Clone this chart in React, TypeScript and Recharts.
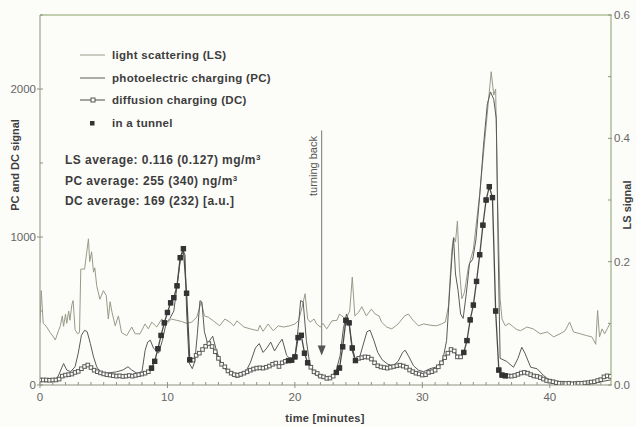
import React from 'react';
import { LineChart, Line, XAxis, YAxis, ReferenceLine, ReferenceDot } from 'recharts';

// light scattering (right axis, mg/m3) - time in minutes
const LS_TIME = [
  0, 0.1, 0.25, 0.5, 0.8, 1.05, 1.2, 1.45, 1.6, 1.75,
  1.85, 2.0, 2.1, 2.25, 2.35, 2.5, 2.6, 2.75, 2.95, 3.1,
  3.2, 3.5, 3.8, 3.9, 4.05, 4.2, 4.3, 4.45, 4.7, 4.97,
  5.2, 5.36, 5.5, 5.65, 5.9, 6.15, 6.4, 6.8, 7.2, 7.46,
  7.85, 8.24, 8.5, 8.77, 9.16, 9.55, 9.94, 10.3, 10.7, 11.1,
  11.5, 11.9, 12.3, 12.65, 12.9, 13.2, 13.6, 14.1, 14.5, 14.9,
  15.2, 15.45, 16.0, 16.5, 17.1, 17.25, 17.5, 17.9, 18.3, 18.7,
  19.1, 19.6, 20.0, 20.3, 20.55, 20.8, 21.0, 21.2, 21.5, 21.7,
  22.0, 22.2, 22.5, 22.9, 23.3, 23.5, 23.8, 24.0, 24.3, 24.5,
  24.7, 25.0, 25.25, 25.6, 26.0, 26.3, 26.6, 26.8, 27.2, 27.6,
  28.1, 28.6, 28.9, 29.3, 29.7, 30.1, 30.6, 31.1, 31.5, 31.8,
  32.05, 32.3, 32.45, 32.6, 32.75, 32.9, 33.1, 33.3, 33.6, 34.0,
  34.5, 35.0, 35.4, 35.6, 35.75, 35.9, 36.1, 36.25, 36.5, 36.8,
  37.15, 37.4, 37.7, 38.2, 38.7, 39.25, 39.8, 40.3, 40.8, 41.2,
  41.55, 41.86, 42.4, 42.9, 43.3, 43.6, 43.75, 43.9, 44.1, 44.3,
  44.5, 44.7,
];
const LS_VALUE = [
  0.100, 0.153, 0.100, 0.095, 0.085, 0.078, 0.073, 0.088, 0.096, 0.112,
  0.095, 0.115, 0.100, 0.120, 0.105, 0.130, 0.137, 0.090, 0.083, 0.085,
  0.188, 0.188, 0.237, 0.200, 0.216, 0.183, 0.190, 0.161, 0.139, 0.153,
  0.145, 0.107, 0.135, 0.118, 0.096, 0.112, 0.085, 0.080, 0.094, 0.083,
  0.083, 0.099, 0.091, 0.102, 0.094, 0.107, 0.099, 0.107, 0.105, 0.103,
  0.100, 0.102, 0.110, 0.135, 0.112, 0.110, 0.104, 0.096, 0.107, 0.102,
  0.096, 0.104, 0.094, 0.091, 0.088, 0.097, 0.087, 0.099, 0.088, 0.096,
  0.094, 0.096, 0.099, 0.105, 0.125, 0.148, 0.107, 0.102, 0.107, 0.099,
  0.094, 0.100, 0.091, 0.104, 0.105, 0.115, 0.110, 0.107, 0.120, 0.175,
  0.112, 0.118, 0.127, 0.112, 0.123, 0.115, 0.112, 0.102, 0.094, 0.091,
  0.099, 0.112, 0.115, 0.104, 0.096, 0.099, 0.097, 0.096, 0.099, 0.102,
  0.128, 0.216, 0.240, 0.232, 0.266, 0.190, 0.140, 0.150, 0.190, 0.220,
  0.310, 0.420, 0.508, 0.470, 0.480, 0.300, 0.140, 0.107, 0.096, 0.100,
  0.094, 0.090, 0.088, 0.094, 0.091, 0.083, 0.086, 0.078, 0.083, 0.088,
  0.102, 0.086, 0.083, 0.080, 0.078, 0.066, 0.121, 0.078, 0.091, 0.083,
  0.091, 0.099,
];

// photoelectric charging (left axis)
const PC_TIME = [
  0, 0.5, 1.0, 1.4, 1.85, 2.1, 2.4, 2.75, 3.0, 3.25,
  3.5, 3.7, 3.95, 4.2, 4.45, 4.7, 5.2, 6.0, 6.5, 6.9,
  7.2, 7.6, 8.0, 8.25, 8.45, 8.65, 8.9, 9.3, 9.6, 9.9,
  10.2, 10.5, 10.8, 11.05, 11.25, 11.38, 11.5, 11.7, 11.95, 12.15,
  12.35, 12.55, 12.7, 12.9, 13.15, 13.55, 13.85, 14.2, 14.6, 15.0,
  15.4, 15.8, 16.2, 16.5, 16.9, 17.2, 17.5, 17.8, 18.1, 18.4,
  18.75, 19.0, 19.35, 19.7, 20.0, 20.25, 20.45, 20.65, 20.9, 21.15,
  21.45, 21.8, 22.2, 22.6, 22.95, 23.25, 23.55, 23.8, 24.05, 24.25,
  24.5, 24.75, 25.05, 25.35, 25.65, 25.9, 26.2, 26.5, 26.85, 27.3,
  27.7, 28.1, 28.45, 28.65, 28.95, 29.3, 29.7, 30.1, 30.6, 31.1,
  31.6, 31.9, 32.15, 32.35, 32.45, 32.6, 32.8, 33.0, 33.2, 33.45,
  33.7, 33.95, 34.2, 34.5, 34.8, 35.1, 35.35, 35.6, 35.8, 35.95,
  36.1, 36.6, 37.15, 37.5, 37.8, 38.05, 38.5, 39.0, 39.5, 40.0,
  40.5, 41.5, 42.5, 43.5, 44.2, 44.8,
];
const PC_VALUE = [
  25, 22, 25, 55, 145, 101, 90, 123, 215, 336,
  370, 360, 280, 190, 123, 89, 79, 89, 101, 123,
  101, 79, 89, 235, 290, 303, 250, 215, 300, 420,
  450, 500, 700, 870, 900, 880, 500, 150, 110, 160,
  350, 570, 560, 360, 280, 330, 230, 150, 100, 70,
  50, 60, 100, 150, 250, 280, 220, 250, 290, 230,
  280, 310, 200, 170, 180, 380, 570, 560, 300, 150,
  80, 60, 45, 45, 60, 100, 200, 380, 480, 420,
  230, 160, 180, 270, 360, 370, 300, 220, 170, 140,
  130, 160, 220, 235, 190, 130, 100, 90, 110, 122,
  168, 300, 650, 900, 990, 750, 640, 480, 450, 620,
  820, 850, 980, 1280, 1620, 1900, 1980, 1930, 1800, 900,
  180, 160, 120, 180, 255, 215, 120, 110, 65, 30,
  15, 12, 10, 14, 25, 35,
];

// diffusion charging, sampled every 0.25 min
const DC_STEP = 0.25;
const DC_VALUE = [
  34, 34, 34, 32, 34, 34, 40, 60, 67, 70, 74, 85, 92, 110, 125, 135, 118, 100, 90, 82,
  75, 70, 67, 63, 60, 62, 58, 60, 64, 60, 65, 70, 74, 80, 90, 114, 160, 245, 335, 420,
  490, 555, 590, 670, 860, 921, 620, 170, 168, 200, 215, 240, 262, 280, 260, 225, 180, 140, 123, 95,
  80, 70, 66, 72, 80, 89, 100, 108, 114, 116, 114, 120, 128, 140, 148, 125, 150, 160, 165, 168,
  190, 320, 336, 215, 150, 120, 89, 78, 60, 55, 45, 47, 60, 85, 115, 258, 437, 420, 250, 165,
  180, 185, 190, 188, 175, 150, 130, 122, 118, 114, 120, 125, 130, 134, 128, 120, 101, 90, 80, 75,
  67, 70, 85, 90, 100, 123, 150, 185, 215, 240, 230, 190, 190, 220, 300, 440, 540, 700, 880, 1080,
  1250, 1340, 1266, 500, 101, 67, 62, 61, 60, 64, 72, 81, 85, 80, 70, 61, 58, 50, 40, 30,
  26, 22, 16, 12, 12, 10, 12, 8, 10, 12, 11, 14, 16, 20, 22, 30, 36, 55, 62, 58,
];

// stretches driven in a tunnel (minutes)
const TUNNEL = [[8.6, 11.8], [19.3, 21.2], [23.2, 24.9], [33.1, 36.5]];
const TURN_BACK = 22.1;

const X_TICKS = Array.from({ length: 45 }, (_, i) => i);
const LEFT_TICKS = [0, 500, 1000, 1500, 2000, 2500];
const RIGHT_TICKS = [0, 0.1, 0.2, 0.3, 0.4, 0.5, 0.6];

const lsData = LS_TIME.map((t, i) => ({ t, ls: LS_VALUE[i] }));
const pcData = PC_TIME.map((t, i) => ({ t, pc: PC_VALUE[i] }));
const dcData = DC_VALUE.map((v, i) => {
  const t = i * DC_STEP;
  const inTunnel = TUNNEL.some(([a, b]) => t >= a && t <= b);
  return { t, dc: v, tunnel: inTunnel ? v : null };
});

const FONT = '"Liberation Sans", Arial, Helvetica, sans-serif';
const AXIS = '#8d957f';
const FRAME_TOP = '#86a267';
const LS_COLOR = '#979c88';
const PC_COLOR = '#5a5a5a';
const DC_COLOR = '#4a4a4a';
const TEXT = '#3d3d3d';
const TICK_TEXT = '#666';
const BG = '#fcfcf9';

const XTick = ({ x, y, payload }: any) => {
  const v = payload.value;
  const major = v % 10 === 0;
  return (
    <g>
      <line x1={x} x2={x} y1={y - 3} y2={major ? y + 3 : y} stroke={AXIS} />
      {major && (
        <text x={x} y={y + 16} textAnchor="middle" fontSize={11.5} fontFamily={FONT} fill={TICK_TEXT}>
          {v}
        </text>
      )}
    </g>
  );
};

const LeftTick = ({ x, y, payload }: any) => {
  const v = payload.value;
  const major = v % 1000 === 0;
  return (
    <g>
      <line x1={major ? x - 3 : x} x2={x + 3} y1={y} y2={y} stroke={AXIS} />
      {major && (
        <text x={x - 4} y={y + 4} textAnchor="end" fontSize={11.5} fontFamily={FONT} fill={TICK_TEXT}>
          {v}
        </text>
      )}
    </g>
  );
};

const RightTick = ({ x, y, payload }: any) => {
  const v = payload.value;
  const major = Math.round(v * 10) % 2 === 0;
  return (
    <g>
      <line x1={x - 3} x2={major ? x + 1 : x} y1={y} y2={y} stroke={AXIS} />
      {major && (
        <text x={x + 3} y={y + 4} textAnchor="start" fontSize={11.5} fontFamily={FONT} fill={TICK_TEXT}>
          {v.toFixed(1)}
        </text>
      )}
    </g>
  );
};

const OpenSquare = (p: any) => {
  const { cx, cy, index, value } = p;
  if (cx == null || cy == null || value == null) return <g key={`o${index}`} />;
  return (
    <rect key={`o${index}`} x={cx - 1.8} y={cy - 1.8} width={3.6} height={3.6} fill={BG} stroke="#5a5a5a" strokeWidth={1} />
  );
};

const FilledSquare = (p: any) => {
  const { cx, cy, index, value } = p;
  if (cx == null || cy == null || value == null) return <g key={`f${index}`} />;
  return <rect key={`f${index}`} x={cx - 2.2} y={cy - 2.2} width={4.4} height={4.4} fill="#333" stroke="#333" />;
};

const ArrowHead = (p: any) => {
  const { cx, cy } = p;
  if (cx == null || cy == null) return <g />;
  return <path d={`M${cx - 4},${cy - 10} L${cx + 4},${cy - 10} L${cx},${cy} Z`} fill="#555" />;
};

const textStyle = { fontFamily: FONT, fontWeight: 700, fill: TEXT } as const;

export default function App() {
  return (
    <div style={{ position: 'absolute', left: 0, top: 0, width: 636, height: 426, background: BG }}>
      <LineChart width={636} height={426} margin={{ top: 15, right: 0, bottom: 0, left: 0 }}>
        <XAxis
          dataKey="t"
          type="number"
          domain={[0, 44.8]}
          allowDataOverflow
          ticks={X_TICKS}
          interval={0}
          tick={XTick}
          tickLine={false}
          tickSize={0}
          tickMargin={0}
          height={41}
          axisLine={{ stroke: AXIS }}
        />
        <YAxis
          yAxisId="left"
          domain={[0, 2500]}
          allowDataOverflow
          ticks={LEFT_TICKS}
          interval={0}
          tick={LeftTick}
          tickLine={false}
          tickSize={0}
          tickMargin={0}
          width={40}
          axisLine={{ stroke: AXIS }}
        />
        <YAxis
          yAxisId="right"
          orientation="right"
          domain={[0, 0.6]}
          allowDataOverflow
          ticks={RIGHT_TICKS}
          interval={0}
          tick={RightTick}
          tickLine={false}
          tickSize={0}
          tickMargin={0}
          width={25}
          axisLine={{ stroke: FRAME_TOP }}
        />
        <ReferenceLine yAxisId="left" y={2500} stroke={FRAME_TOP} />
        <ReferenceLine
          yAxisId="left"
          segment={[{ x: TURN_BACK, y: 1720 }, { x: TURN_BACK, y: 240 }]}
          stroke="#777"
        />
        <ReferenceDot yAxisId="left" x={TURN_BACK} y={200} shape={ArrowHead} />
        <Line
          data={lsData}
          dataKey="ls"
          yAxisId="right"
          type="linear"
          stroke={LS_COLOR}
          strokeWidth={1}
          dot={false}
          activeDot={false}
          isAnimationActive={false}
        />
        <Line
          data={pcData}
          dataKey="pc"
          yAxisId="left"
          type="linear"
          stroke={PC_COLOR}
          strokeWidth={1}
          dot={false}
          activeDot={false}
          isAnimationActive={false}
        />
        <Line
          data={dcData}
          dataKey="dc"
          yAxisId="left"
          type="linear"
          stroke={DC_COLOR}
          strokeWidth={1.3}
          dot={OpenSquare}
          activeDot={false}
          isAnimationActive={false}
        />
        <Line
          data={dcData}
          dataKey="tunnel"
          yAxisId="left"
          type="linear"
          stroke="none"
          dot={FilledSquare}
          activeDot={false}
          isAnimationActive={false}
        />
      </LineChart>

      <svg
        width={636}
        height={426}
        style={{ position: 'absolute', left: 0, top: 0, pointerEvents: 'none' }}
      >
        {/* legend */}
        <line x1={80} x2={105} y1={55} y2={55} stroke={LS_COLOR} />
        <line x1={80} x2={105} y1={78} y2={78} stroke={PC_COLOR} />
        <line x1={80} x2={105} y1={100} y2={100} stroke={DC_COLOR} />
        <rect x={91} y={98} width={4} height={4} fill={BG} stroke="#555" />
        <rect x={90} y={121} width={4.5} height={4.5} fill="#333" />
        <g fontSize={11.5} letterSpacing={0.3} {...textStyle}>
          <text x={112} y={59}>light scattering (LS)</text>
          <text x={112} y={82}>photoelectric charging (PC)</text>
          <text x={112} y={104}>diffusion charging (DC)</text>
          <text x={112} y={127}>in a tunnel</text>
        </g>

        {/* averages */}
        <g fontSize={12} letterSpacing={0.45} {...textStyle}>
          <text x={65} y={164}>
            LS average: 0.116 (0.127) mg/m<tspan dy={-4} fontSize={8}>3</tspan>
          </text>
          <text x={65} y={185}>
            PC average: 255 (340) ng/m<tspan dy={-4} fontSize={8}>3</tspan>
          </text>
          <text x={65} y={205}>DC average: 169 (232) [a.u.]</text>
        </g>

        {/* axis titles */}
        <text
          x={15}
          y={165}
          transform="rotate(-90 15 165)"
          textAnchor="middle"
          dominantBaseline="central"
          fontSize={11}
          {...textStyle}
        >
          PC and DC signal
        </text>
        <text
          x={627}
          y={205}
          transform="rotate(-90 627 205)"
          textAnchor="middle"
          dominantBaseline="central"
          fontSize={11}
          {...textStyle}
        >
          LS signal
        </text>
        <text x={325} y={422} textAnchor="middle" fontSize={11} letterSpacing={0.3} {...textStyle}>
          time [minutes]
        </text>

        {/* annotation */}
        <text
          x={313}
          y={166}
          transform="rotate(-90 313 166)"
          textAnchor="middle"
          dominantBaseline="central"
          fontSize={11}
          fontFamily={FONT}
          fill="#555"
        >
          turning back
        </text>
      </svg>
    </div>
  );
}
